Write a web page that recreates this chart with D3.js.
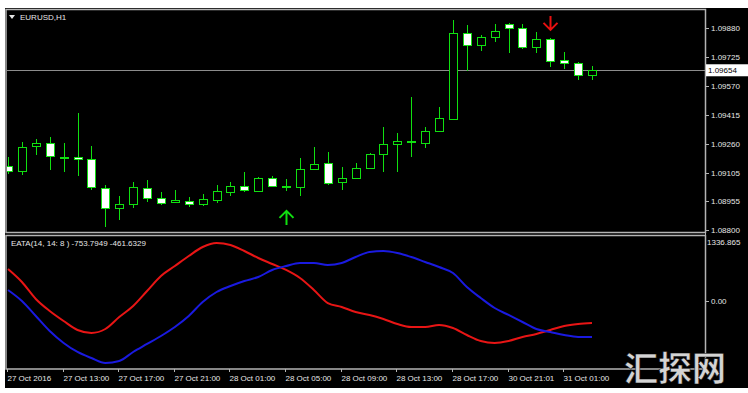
<!DOCTYPE html>
<html lang='en'>
<head>
<meta charset='UTF-8'>
<script src='https://d3js.org/d3.v7.min.js'></script>
<title>EURUSD,H1</title>
<style>
  body { margin:0; background:#fff; }
  svg { display:block; font-family:'Liberation Sans', Arial, sans-serif; }
</style>
</head>
<body>
<svg id='chart' width='748' height='393'></svg>
<script>
// EURUSD H1 bars, 27 Oct 2016 09:00 -> 31 Oct 03:00 (43 bars)
let opens = [1.09142,1.09115,1.09249,1.09265,1.09190,1.09190,1.09180,1.09025,1.08918,1.08939,
  1.09025,1.08971,1.08950,1.08955,1.08939,1.08960,1.09003,1.09035,1.09009,1.09078,
  1.09035,1.09030,1.09126,1.09158,1.09057,1.09078,1.09131,1.09206,1.09260,1.09276,
  1.09265,1.09329,1.09393,1.09853,1.09789,1.09832,1.09901,1.09880,1.09778,1.09821,
  1.09709,1.09693,1.09629]
let highs = [1.09190,1.09270,1.09287,1.09297,1.09265,1.09426,1.09249,1.09041,1.08982,1.09057,
  1.09067,1.09003,1.09014,1.08976,1.08992,1.09041,1.09057,1.09110,1.09083,1.09089,
  1.09073,1.09185,1.09244,1.09217,1.09137,1.09158,1.09212,1.09351,1.09319,1.09511,
  1.09351,1.09458,1.09923,1.09896,1.09843,1.09901,1.09907,1.09901,1.09859,1.09827,
  1.09752,1.09698,1.09677]
let lows = [1.09099,1.09094,1.09201,1.09121,1.09110,1.09089,1.09014,1.08816,1.08853,1.08918,
  1.08950,1.08934,1.08944,1.08923,1.08928,1.08944,1.08982,1.09003,1.09003,1.09030,
  1.09009,1.08982,1.09121,1.09041,1.09014,1.09073,1.09126,1.09110,1.09110,1.09190,
  1.09238,1.09324,1.09388,1.09650,1.09757,1.09805,1.09746,1.09768,1.09746,1.09671,
  1.09661,1.09602,1.09602]
let closes = [1.09115,1.09244,1.09265,1.09196,1.09190,1.09180,1.09030,1.08918,1.08939,1.09030,
  1.08971,1.08944,1.08960,1.08939,1.08966,1.09009,1.09035,1.09014,1.09078,1.09035,
  1.09030,1.09126,1.09153,1.09051,1.09078,1.09131,1.09206,1.09260,1.09276,1.09270,
  1.09329,1.09399,1.09853,1.09789,1.09832,1.09864,1.09880,1.09778,1.09821,1.09704,
  1.09693,1.09629,1.09654]

// EATA indicator buffers
let eataBlue = [230,0,-313,-627,-877,-1065,-1191,-1295,-1253,-1065,
  -898,-731,-543,-313,-21,188,313,418,501,648,
  731,794,794,752,794,919,1024,1045,1003,919,
  815,710,585,292,63,-146,-292,-439,-585,-648,
  -710,-752,-753.7949]
let eataRed = [668,397,42,-209,-418,-606,-668,-585,-334,-104,
  209,522,731,940,1128,1212,1170,1045,898,773,
  648,480,230,-42,-125,-230,-292,-376,-480,-543,
  -543,-501,-564,-710,-836,-877,-836,-752,-689,-606,
  -522,-480,-461.6329]

let priceTicks = [1.09880, 1.09725, 1.09570, 1.09415, 1.09260, 1.09105, 1.08955, 1.08800]
let lastPrice = 1.09654
let eataMax = 1336.865
let timeTickBars = [0, 4, 8, 12, 16, 20, 24, 28, 32, 36, 40]
let timeTickLabels = ['27 Oct 2016', '27 Oct 13:00', '27 Oct 17:00', '27 Oct 21:00', '28 Oct 01:00',
  '28 Oct 05:00', '28 Oct 09:00', '28 Oct 13:00', '28 Oct 17:00', '30 Oct 21:01', '31 Oct 01:00']
let buyBar = 20
let sellBar = 39

let green = '#10e010', txt = '#e6e6e6', frame = '#b4b4b4'
let svg = d3.select('#chart')

svg.append('rect').attr('x', 5).attr('y', 8).attr('width', 743).attr('height', 380).style('fill', '#000')

let bars = d3.range(opens.length)
let x = d3.scalePoint().domain(bars).range([8, 592])
let y = d3.scaleLinear().domain([1.08800, 1.09880]).range([230, 28])
let yi = d3.scaleLinear().domain([0, eataMax]).range([301, 237])

let defs = svg.append('defs')
defs.append('clipPath').attr('id', 'mainClip').append('rect')
  .attr('x', 7).attr('y', 10).attr('width', 698).attr('height', 222)
defs.append('clipPath').attr('id', 'subClip').append('rect')
  .attr('x', 7).attr('y', 236).attr('width', 698).attr('height', 132)

// panel frames
svg.append('rect').attr('x', 6).attr('y', 9.5).attr('width', 699.5).attr('height', 223)
  .style('fill', 'none').style('stroke', frame).style('stroke-width', 1.5)
svg.append('rect').attr('x', 6).attr('y', 235.5).attr('width', 699.5).attr('height', 133.5)
  .style('fill', 'none').style('stroke', frame).style('stroke-width', 1.5)

// current price line
svg.append('line').attr('x1', 7).attr('x2', 705).attr('y1', Math.round(y(lastPrice)) + 0.5).attr('y2', Math.round(y(lastPrice)) + 0.5)
  .style('stroke', '#8c8c8c')

// candles
let main = svg.append('g').attr('clip-path', 'url(#mainClip)')
let candle = main.selectAll('g.candle').data(bars).enter().append('g')
candle.append('line')
  .attr('x1', i => Math.round(x(i)) + 0.5).attr('x2', i => Math.round(x(i)) + 0.5)
  .attr('y1', i => Math.round(y(highs[i]))).attr('y2', i => Math.round(y(lows[i])))
  .style('stroke', green)
candle.append('rect')
  .attr('x', i => Math.round(x(i)) - 3.5)
  .attr('width', 8)
  .attr('y', i => Math.round(y(Math.max(opens[i], closes[i]))) + 0.5)
  .attr('height', i => Math.max(1, Math.round(y(Math.min(opens[i], closes[i]))) - Math.round(y(Math.max(opens[i], closes[i])))))
  .style('fill', i => closes[i] < opens[i] ? '#fff' : '#000')
  .style('stroke', green)

// signal arrows
let arrow = (cx, tipY, dir, color) => {
  let p = `M${cx},${tipY} L${cx},${tipY - dir * 14} M${cx - 7},${tipY - dir * 7} L${cx},${tipY} L${cx + 7},${tipY - dir * 7}`
  svg.append('path').attr('d', p).style('fill', 'none').style('stroke', color).style('stroke-width', 2)
}
arrow(Math.round(x(buyBar)) + 0.5, y(lows[buyBar]) + 20, -1, green)
arrow(Math.round(x(sellBar)) + 0.5, y(highs[sellBar]) - 8, 1, '#e81010')

// right price axis
svg.append('line').attr('x1', 705.5).attr('x2', 705.5).attr('y1', 9).attr('y2', 369).style('stroke', frame)
let pt = svg.selectAll('g.ptick').data(priceTicks).enter().append('g')
  .attr('transform', d => `translate(705, ${Math.round(y(d)) + 0.5})`)
pt.append('line').attr('x1', 0).attr('x2', 4).style('stroke', frame)
pt.append('text').attr('x', 6).attr('dy', '0.35em').text(d => d.toFixed(5))
  .style('fill', txt).style('font-size', '8px')

svg.append('rect').attr('x', 706).attr('y', y(lastPrice) - 6).attr('width', 42).attr('height', 12).style('fill', '#fff')
svg.append('text').attr('x', 708).attr('y', y(lastPrice)).attr('dy', '0.35em').text(lastPrice.toFixed(5))
  .style('fill', '#000').style('font-size', '8px')

// titles
svg.append('path').attr('d', 'M9,15 L15,15 L12,19 Z').style('fill', txt)
svg.append('text').attr('x', 20).attr('y', 20).text('EURUSD,H1').style('fill', txt).style('font-size', '8px')
svg.append('text').attr('x', 11).attr('y', 246)
  .text(`EATA(14, 14: 8 ) ${eataBlue[eataBlue.length - 1].toFixed(4)} ${eataRed[eataRed.length - 1].toFixed(4)}`)
  .style('fill', txt).style('font-size', '8px')

// indicator panel
let sub = svg.append('g').attr('clip-path', 'url(#subClip)')
let line = d3.line().x(i => x(i)).curve(d3.curveMonotoneX)
sub.append('path').attr('d', line.y(i => yi(eataRed[i]))(bars))
  .style('fill', 'none').style('stroke', '#e81515').style('stroke-width', 2)
sub.append('path').attr('d', line.y(i => yi(eataBlue[i]))(bars))
  .style('fill', 'none').style('stroke', '#1a1ae0').style('stroke-width', 2)

svg.append('text').attr('x', 707).attr('y', 245).text(eataMax.toFixed(3)).style('fill', txt).style('font-size', '8px')
svg.append('line').attr('x1', 705).attr('x2', 709).attr('y1', yi(0) + 0.5).attr('y2', yi(0) + 0.5).style('stroke', frame)
svg.append('text').attr('x', 711).attr('y', yi(0)).attr('dy', '0.35em').text('0.00').style('fill', txt).style('font-size', '8px')

// time axis
let tt = svg.selectAll('g.ttick').data(timeTickBars).enter().append('g')
  .attr('transform', d => `translate(${Math.round(x(d)) - 0.5}, 369)`)
tt.append('line').attr('y1', 0).attr('y2', 3).style('stroke', frame)
tt.append('text').attr('x', 0).attr('y', 12).text((d, i) => timeTickLabels[i])
  .style('fill', txt).style('font-size', '8px')

// watermark
svg.append('text').attr('x', 624).attr('y', 381).text('汇探网')
  .style('font-family', "'Noto Sans CJK SC'").style('font-weight', 'bold').style('font-size', '34px')
  .style('fill', '#d4d4d4').style('stroke', '#000').style('stroke-width', 0.5)
</script>
</body>
</html>
